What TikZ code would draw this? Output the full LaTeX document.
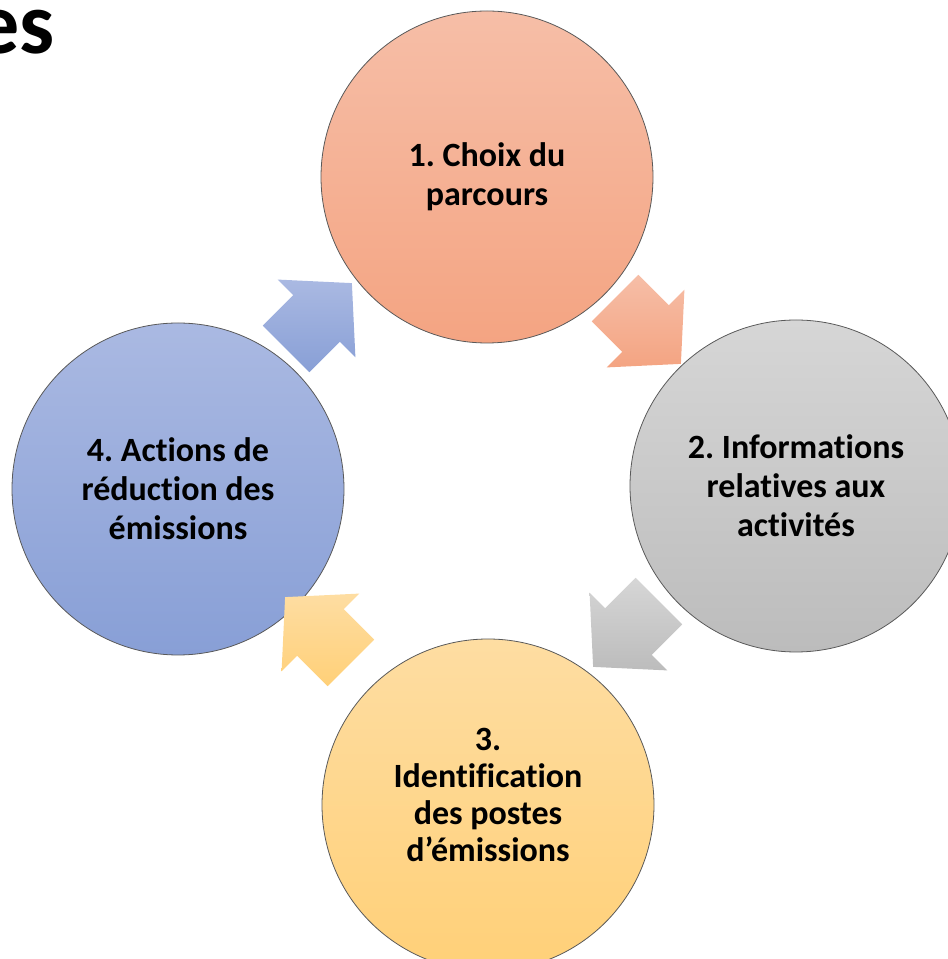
\documentclass[tikz,border=0pt]{standalone}
\usepackage{fontspec}
\setmainfont[Ligatures=NoCommon]{Carlito}

\definecolor{saumonA}{HTML}{F6BEA7}
\definecolor{saumonB}{HTML}{F4A482}
\definecolor{grisA}{HTML}{D6D6D6}
\definecolor{grisB}{HTML}{BCBCBC}
\definecolor{jauneA}{HTML}{FEDDA2}
\definecolor{jauneB}{HTML}{FFD078}
\definecolor{bleuA}{HTML}{AAB9E2}
\definecolor{bleuB}{HTML}{889FD6}

\tikzset{
  etape/.style={circle, minimum size=332pt, inner sep=0pt, draw=black!65,
    line width=0.8pt, align=center, text=black,
    font=\bfseries\fontsize{34}{39}\selectfont},
  pics/fleche/.style 2 args={code={
    \shade[top color=#1, bottom color=#2]
      (-46.5,-33) -- (-3.5,-33) -- (-3.5,-55) -- (46.5,0)
      -- (-3.5,55) -- (-3.5,33) -- (-46.5,33) -- cycle;
  }}
}

\begin{document}
\frenchspacing
\begin{tikzpicture}[x=1pt, y=1pt]
  \useasboundingbox (0,0) rectangle (948,959);
  % Title fragment cut at the left edge
  \node[anchor=base east, inner sep=0pt, font=\bfseries\fontsize{88}{88}\selectfont]
    (titre) at (55,905) {es};
  % Cycle stages
  \node[etape, top color=saumonA, bottom color=saumonB] (choix) at (487,782) {1. Choix du\\parcours};
  \node[etape, top color=grisA, bottom color=grisB] (infos) at (796,473) {2. Informations\\relatives aux\\activités};
  \node[etape, top color=jauneA, bottom color=jauneB] (postes) at (488,154) {};
  \node[align=center, font=\bfseries\fontsize{34}{37}\selectfont] (postestxt) at (488,164)
    {3.\\Identification\\des postes\\d’émissions};
  \node[etape, top color=bleuA, bottom color=bleuB] (actions) at (178,470) {4. Actions de\\réduction des\\émissions};
  % Block arrows between stages
  \pic[rotate=-45] (f1) at (648,628) {fleche={saumonA}{saumonB}};
  \pic[rotate=-135] (f2) at (626,325) {fleche={grisA}{grisB}};
  \pic[rotate=135] (f3) at (318,329) {fleche={jauneA}{jauneB}};
  \pic[rotate=45] (f4) at (319,643) {fleche={bleuA}{bleuB}};
\end{tikzpicture}
\end{document}
